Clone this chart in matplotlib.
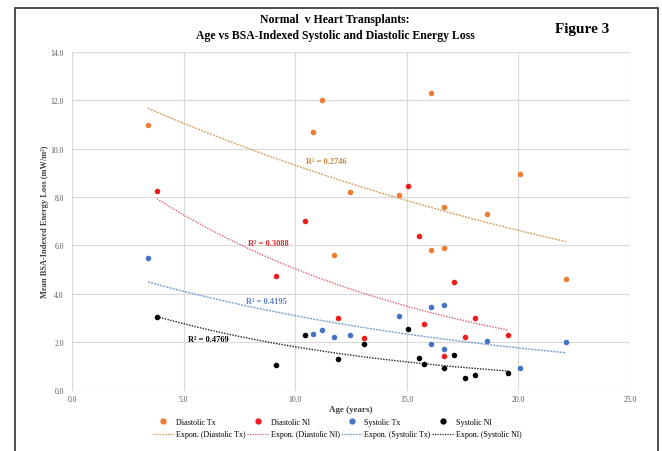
import numpy as np
import matplotlib.pyplot as plt
from matplotlib.patches import Rectangle
from matplotlib.lines import Line2D

plt.rcParams['font.family'] = ['Liberation Serif', 'DejaVu Serif']

# ages (years) and BSA-indexed energy loss (mW/m2)
age_tx = [3.4, 10.8, 11.2, 11.75, 12.47, 14.65, 16.07, 16.07, 16.65, 16.65, 18.59, 20.06, 22.12]
diast_tx = [11.0, 10.7, 12.0, 5.6, 8.2, 8.1, 12.3, 5.8, 7.57, 5.9, 7.3, 8.94, 4.63]
syst_tx = [5.46, 2.34, 2.5, 2.23, 2.3, 3.07, 3.46, 1.94, 3.54, 1.72, 2.06, 0.94, 1.99]

age_nl = [3.8, 9.12, 10.44, 11.9, 13.07, 15.04, 15.55, 15.78, 16.65, 17.11, 17.59, 18.07, 19.55]
diast_nl = [8.25, 4.74, 6.99, 3.0, 2.17, 8.45, 6.41, 2.77, 1.43, 4.47, 2.2, 3.0, 2.3]
syst_nl = [3.04, 1.04, 2.3, 1.32, 1.94, 2.53, 1.33, 1.10, 0.94, 1.46, 0.53, 0.65, 0.71]

r2_labels = ['R² = 0.2746', 'R² = 0.3088', 'R² = 0.4195', 'R² = 0.4769']

fig = plt.figure(figsize=(6.62, 4.52), dpi=100)
ax = fig.add_axes([72/662, 1-391.5/452, 558/662, 338.5/452])

def expon(x, y):
    b, lna = np.polyfit(x, np.log(y), 1)
    xs = np.linspace(min(x), max(x), 100)
    return xs, np.exp(lna) * np.exp(b * xs)

series = [
    ('Diastolic Tx', age_tx, diast_tx, '#ED7D31', '#D6A36A', (0, (1.5, 0.8)), '#C8893E', (11.4, 9.5)),
    ('Diastolic Nl', age_nl, diast_nl, '#F01B1B', '#E06070', (0, (1, 1)), '#E0282C', (8.8, 6.12)),
    ('Systolic Tx', age_tx, syst_tx, '#4472C4', '#7A9FD0', (0, (1.5, 0.8)), '#5A7FC0', (8.7, 3.7)),
    ('Systolic Nl', age_nl, syst_nl, '#000000', '#202020', (0, (1, 1)), '#000000', (6.1, 2.13)),
]

handles = []
for (name, x, y, col, tcol, ls, lcol, lpos), r2 in zip(series, r2_labels):
    ax.scatter(x, y, s=16, color=col, zorder=3, linewidths=0)
    xs, ys = expon(np.array(x), np.array(y))
    ax.plot(xs, ys, color=tcol, lw=1.0, ls=ls, zorder=2)
    ax.text(lpos[0], lpos[1], r2, color=lcol, fontsize=6, fontweight='bold',
            ha='center', va='center')
    handles.append(Line2D([], [], ls='none', marker='o', ms=3.5, color=col, label=name))
    handles.append(Line2D([], [], color=tcol, lw=0.9, ls=ls, label='Expon. (%s)' % name))

ax.set_xlim(0, 25)
ax.set_ylim(0, 14)
ax.set_xticks(np.arange(0, 25.1, 5))
ax.set_yticks(np.arange(0, 14.1, 2))
ax.xaxis.set_major_formatter(plt.FormatStrFormatter('%.1f'))
ax.yaxis.set_major_formatter(plt.FormatStrFormatter('%.1f'))
ax.tick_params(length=0, labelsize=5.5, labelcolor='#595959')
ax.tick_params(axis='y', pad=6)
ax.tick_params(axis='x', pad=3)
ax.grid(color='#D9D9D9', lw=0.8)
ax.set_axisbelow(True)
for s in ax.spines.values():
    s.set_visible(False)

ax.set_xlabel('Age (years)', fontsize=6.5, fontweight='bold', color='#404040', labelpad=1.5)
ax.set_ylabel('Mean BSA-Indexed Energy Loss (mW/m²)', fontsize=6, fontweight='bold',
              color='#404040', labelpad=1)

fig.text(0.506, 1-20/452, 'Normal  v Heart Transplants:', ha='center', va='center',
         fontsize=8.5, fontweight='bold')
fig.text(0.506, 1-36/452, 'Age vs BSA-Indexed Systolic and Diastolic Energy Loss',
         ha='center', va='center', fontsize=8.5, fontweight='bold')
fig.text(582/662, 1-29/452, 'Figure 3', ha='center', va='center', fontsize=11, fontweight='bold')

ax.legend(handles=handles, ncol=4, loc='center', bbox_to_anchor=(337/662, 1-429/452),
          bbox_transform=fig.transFigure, frameon=False, fontsize=5.8,
          handlelength=2.6, columnspacing=0.2, handletextpad=0.3, labelspacing=0.6,
          borderaxespad=0)

fig.patches.append(Rectangle((15/662, -0.05), 643/662, 1.05-9/452, transform=fig.transFigure,
                             fill=False, edgecolor='#404040', lw=1.3))

fig.savefig('out.png', dpi=100)
